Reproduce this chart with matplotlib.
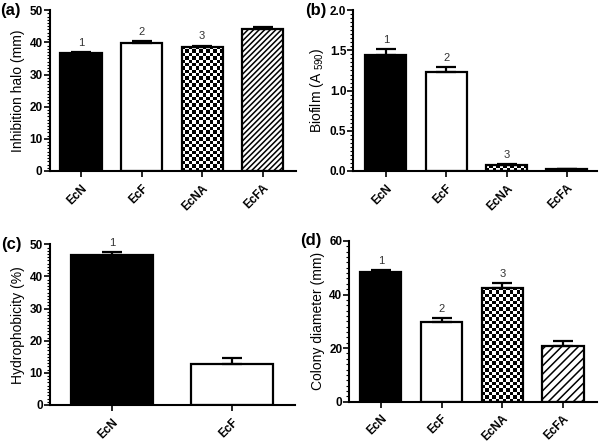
import numpy as np
import matplotlib
matplotlib.use('Agg')
import matplotlib.pyplot as plt

plt.rcParams['font.family'] = ['Liberation Sans', 'DejaVu Sans']
plt.rcParams['hatch.linewidth'] = 1.1

# data
strains = ['EcN', 'EcF', 'EcNA', 'EcFA']
halo = [36.8, 39.8, 38.6, 44.3]
halo_err = [0.3, 0.5, 0.4, 0.4]
halo_sig = ['1', '2', '3', '']

biofilm = [1.44, 1.23, 0.07, 0.02]
biofilm_err = [0.08, 0.06, 0.02, 0.006]
biofilm_sig = ['1', '2', '3', '']

hydro_strains = ['EcN', 'EcF']
hydro = [46.7, 12.9]
hydro_err = [0.9, 1.8]
hydro_sig = ['1', '']

colony = [48.5, 29.6, 42.6, 20.8]
colony_err = [0.7, 1.5, 1.8, 1.9]
colony_sig = ['1', '2', '3', '']

styles = {'EcN': 'solid', 'EcF': 'open', 'EcNA': 'checker', 'EcFA': 'hatch'}

fig = plt.figure(figsize=(6, 4.43), dpi=100)


def panel(rect, cats, vals, errs, sigs, ylim, major, minor, ylabel, letter, xlim, hatch='//////'):
    ax = fig.add_axes(rect)
    x = np.arange(len(cats))
    ax.set_xlim(*xlim)
    ax.set_ylim(*ylim)
    bars = []
    for i, c in enumerate(cats):
        st = styles[c]
        fc = {'solid': 'black', 'open': 'white', 'checker': 'none', 'hatch': 'white'}[st]
        b = ax.bar(x[i], vals[i], width=0.68, color=fc, edgecolor='black', linewidth=1.6,
                   hatch=hatch if st == 'hatch' else None, zorder=2)[0]
        bars.append((b, st))
        ax.errorbar(x[i], vals[i], yerr=[[0], [errs[i]]], fmt='none', ecolor='black',
                    elinewidth=1.6, capsize=7, capthick=1.6, zorder=3)
        if sigs[i]:
            ax.annotate(sigs[i], (x[i], vals[i] + errs[i]), xytext=(0, 3),
                        textcoords='offset points', ha='center', va='bottom',
                        fontsize=8, color='#333333')
    # checkerboard fill for the EcNA bars
    for b, st in bars:
        if st != 'checker':
            continue
        ext = b.get_window_extent()
        ncol = max(1, int(round(ext.width / 3.4)))
        nrow = max(1, int(round(ext.height / 3.4)))
        board = (np.indices((nrow, ncol)).sum(axis=0) % 2).astype(float)
        bx, by = b.get_x(), b.get_y()
        im = ax.imshow(board, cmap='gray', interpolation='nearest', aspect='auto',
                       extent=(bx, bx + b.get_width(), by, by + b.get_height()),
                       zorder=1, origin='lower')
        im.set_clip_path(b)
    ax.set_xlim(*xlim)
    ax.set_ylim(*ylim)
    for s in ['top', 'right']:
        ax.spines[s].set_visible(False)
    for s in ['left', 'bottom']:
        ax.spines[s].set_linewidth(1.5)
    ax.set_yticks(np.arange(ylim[0], ylim[1] + major / 2, major))
    ax.set_yticks(np.arange(ylim[0], ylim[1] + minor / 2, minor), minor=True)
    ax.tick_params(axis='y', which='major', length=4, width=1.2, labelsize=8.5, pad=1)
    ax.tick_params(axis='y', which='minor', length=2, width=0.8)
    ax.set_xticks(x)
    ax.set_xticklabels(cats, rotation=45, ha='right', rotation_mode='anchor',
                       fontweight='bold', fontsize=8.5)
    ax.tick_params(axis='x', length=4, width=1.2, pad=4)
    for lab in ax.get_yticklabels():
        lab.set_fontweight('bold')
    ax.set_ylabel(ylabel, fontsize=10, labelpad=3)
    ax.text(-0.2, 1.0, letter, transform=ax.transAxes, fontsize=12, fontweight='bold',
            ha='left', va='center')
    return ax


ax1 = panel([0.0825, 0.614, 0.411, 0.363], strains, halo, halo_err, halo_sig,
            (0, 50), 10, 1, 'Inhibition halo (mm)', '(a)', (-0.52, 3.55))
ax2 = panel([0.589, 0.614, 0.406, 0.363], strains, biofilm, biofilm_err, biofilm_sig,
            (0, 2.0), 0.5, 0.05, 'Biofilm (A $\\mathregular{_{590}}$)', '(b)', (-0.54, 3.5))
ax2.set_yticklabels(['0.0', '0.5', '1.0', '1.5', '2.0'], fontweight='bold')
ax3 = panel([0.083, 0.0858, 0.409, 0.3627], hydro_strains, hydro, hydro_err, hydro_sig,
            (0, 50), 10, 1, 'Hydrophobicity (%)', '(c)', (-0.515, 1.52))
ax4 = panel([0.582, 0.0932, 0.413, 0.3628], strains, colony, colony_err, colony_sig,
            (0, 60), 20, 2, 'Colony diameter (mm)', '(d)', (-0.52, 3.56), hatch='////')

fig.savefig('out.png', dpi=100)
